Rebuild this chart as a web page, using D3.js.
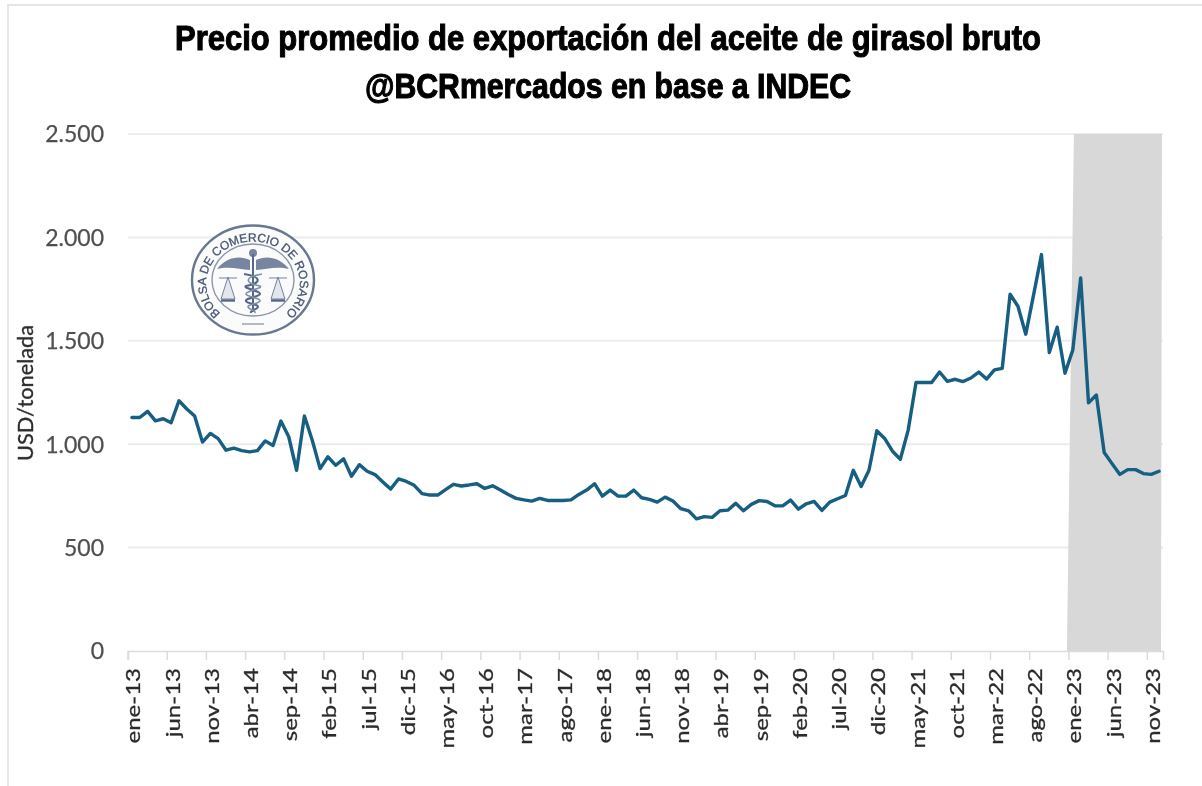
<!DOCTYPE html>
<html lang="es">
<head>
<meta charset="utf-8">
<script src="https://cdn.jsdelivr.net/npm/d3@7"></script>
<style>
html,body{margin:0;padding:0;background:#fff;}
svg{display:block;}
</style>
</head>
<body>
<svg id="chart" width="1202" height="786"></svg>
<script>
const titleLines = ["Precio promedio de exportación del aceite de girasol bruto", "@BCRmercados en base a INDEC"];
const yAxisLabel = "USD/tonelada";
const monthNames = ["ene","feb","mar","abr","may","jun","jul","ago","sep","oct","nov","dic"];
const years = ["13","14","15","16","17","18","19","20","21","22","23"];
const yTicks = [0,500,1000,1500,2000,2500];
const shadedFrom = "ene-23";
const prices = [
 1129,1129,1159,1113,1123,1104,1210,1170,1136,1010,1052,1027,
 971,981,969,963,969,1016,994,1112,1036,874,1136,1019,
 882,939,898,929,845,901,869,853,817,783,832,820,
 801,761,754,754,780,806,798,803,809,786,799,778,
 757,738,731,725,738,728,728,728,731,757,778,809,
 749,778,749,749,778,741,733,720,744,725,688,678,
 639,650,646,678,681,714,678,709,727,723,702,702,
 730,686,712,723,680,720,736,752,874,796,874,1065,
 1028,966,927,1068,1298,1298,1298,1349,1304,1314,1303,1320,
 1349,1315,1359,1367,1725,1667,1532,1723,1917,1443,1566,1343,
 1456,1804,1200,1238,960,906,854,877,877,858,854,869
];
const categories = years.flatMap(y => monthNames.map(m => `${m}-${y}`));
const tickLabels = categories.filter((d,i) => i % 5 === 0);

const svg = d3.select("#chart");
const plot = {left:128, right:1163, top:134, bottom:651};
const x = d3.scaleBand().domain(categories).range([plot.left, plot.right]);
const y = d3.scaleLinear().domain([0,2500]).range([plot.bottom, plot.top]);
const cx = d => x(d) + x.bandwidth()/2;
const esFormat = d3.formatLocale({decimal:",",thousands:".",grouping:[3],currency:["$",""]}).format(",d");

const defs = svg.append("defs");
const soft = defs.append("filter").attr("id","soft").attr("x","-5%").attr("y","-5%").attr("width","110%").attr("height","110%");
soft.append("feGaussianBlur").attr("stdDeviation",0.5);
const softer = defs.append("filter").attr("id","softer").attr("filterUnits","userSpaceOnUse")
  .attr("x",0).attr("y",0).attr("width",1202).attr("height",786);
softer.append("feGaussianBlur").attr("stdDeviation",0.45);

// frame of the pasted picture
svg.append("path").attr("d","M8,786V5H1202").attr("fill","none").attr("stroke","#e6e6e6").attr("stroke-width",2);

// gridlines
svg.append("g").selectAll("line").data(yTicks.filter(d=>d>0)).join("line")
  .attr("x1",plot.left).attr("x2",plot.right).attr("y1",d=>y(d)).attr("y2",d=>y(d))
  .attr("stroke","#ececec").attr("stroke-width",2);

// shaded forecast band (hand-placed, slightly slanted in the source)
const shadeL = x(shadedFrom);
svg.append("path")
  .attr("d",`M${shadeL+5},${plot.top}L${plot.right-1},${plot.top}L${plot.right-2},${plot.bottom}L${shadeL-2},${plot.bottom}Z`)
  .attr("fill","#d8d8d8");

// everything in the pasted image is slightly soft
const layer = svg.append("g").attr("filter","url(#softer)");

// title
const fontTitle = "'Liberation Sans Narrow','Liberation Sans',sans-serif";
const titleWidths = [866, 486];
const titleBase = [50, 98];
layer.append("g").selectAll("text.title").data(titleLines).join("text").attr("class","title")
  .attr("x",608).attr("y",(d,i)=>titleBase[i]).attr("text-anchor","middle")
  .attr("font-family",fontTitle).attr("font-weight",700).attr("font-size",35)
  .attr("textLength",(d,i)=>titleWidths[i]).attr("lengthAdjust","spacingAndGlyphs")
  .attr("fill","#000").attr("stroke","#000").attr("stroke-width",1.1)
  .text(d=>d);

// y axis
const yAxis = d3.axisLeft(y).tickValues(yTicks).tickFormat(esFormat).tickSize(0).tickPadding(24);
const gy = layer.append("g").attr("transform",`translate(${plot.left},0)`).call(yAxis);
gy.select(".domain").remove();
gy.selectAll("text").attr("font-family","Lato").attr("font-size",23).attr("fill","#505050")
  .attr("stroke","#505050").attr("stroke-width",0.25).attr("dy","0.34em");

// x axis
const xAxis = d3.axisBottom(x).tickValues(tickLabels).tickSize(9).tickPadding(0);
const gx = layer.append("g").attr("transform",`translate(0,${plot.bottom})`).call(xAxis);
gx.select(".domain").attr("stroke","#dcdcdc").attr("stroke-width",1.5);
gx.selectAll("line").attr("stroke","#dcdcdc").attr("stroke-width",1.5)
  .attr("x1",-x.bandwidth()/2).attr("x2",-x.bandwidth()/2);
gx.selectAll("text").attr("font-family","Lato").attr("font-size",20).attr("fill","#2b2b2b")
  .attr("stroke","#2b2b2b").attr("stroke-width",0.3)
  .attr("text-anchor","end").attr("transform","translate(1.5,17) rotate(-90) scale(1.2,1)")
  .attr("y",0).attr("dy","0.35em");

// y title
layer.append("text").attr("transform","translate(26,393) rotate(-90) scale(1.06,1)").attr("text-anchor","middle")
  .attr("dy","0.35em").attr("font-family","Lato").attr("font-size",20.5).attr("fill","#2b2b2b")
  .attr("stroke","#2b2b2b").attr("stroke-width",0.3).text(yAxisLabel);

// line
const line = d3.line().x((d,i)=>cx(categories[i])).y(d=>y(d));
layer.append("path").datum(prices).attr("d",line).attr("fill","none")
  .attr("stroke","#155e82").attr("stroke-width",3.4).attr("stroke-linejoin","round").attr("stroke-linecap","round");

// seal of the Bolsa de Comercio de Rosario
const sealInk = "#56688a";
const seal = layer.append("g").attr("transform","translate(253,280)");
seal.append("ellipse").attr("rx",61).attr("ry",54.5).attr("fill","#fbfbfc").attr("stroke","#69788f").attr("stroke-width",2.4);
seal.append("ellipse").attr("rx",41).attr("ry",36).attr("fill","none").attr("stroke","#8b97aa").attr("stroke-width",1.4);
defs.append("path").attr("id","sealArc").attr("d","M-33,33 A46.8,41.8 0 1 1 33,33");
seal.append("text").attr("font-family","'Liberation Sans',sans-serif").attr("font-size",12).attr("fill","#46556f")
  .attr("font-weight",400).attr("stroke","#46556f").attr("stroke-width",0.3)
  .append("textPath").attr("href","#sealArc").attr("startOffset","50%").attr("text-anchor","middle")
  .text("BOLSA DE COMERCIO DE ROSARIO");
// wings
seal.append("path").attr("d","M-3,-20 C-13,-25 -27,-23 -36,-11 C-25,-14 -13,-11 -3,-10 Z M3,-20 C13,-25 27,-23 36,-11 C25,-14 13,-11 3,-10 Z").attr("fill",sealInk).attr("opacity",0.8);
// staff and head
seal.append("path").attr("d","M0,-26 V32").attr("stroke",sealInk).attr("stroke-width",2).attr("fill","none");
seal.append("circle").attr("cy",-27).attr("r",4).attr("fill",sealInk).attr("opacity",0.8);
// serpents
seal.append("path").attr("d","M-9,-6 C9,-3 9,3 -7,6 C-11,8 8,11 7,14 C6,17 -8,18 -7,21 C-6,24 6,24 5,27 C4,30 -3,30 -2,33").attr("fill","none").attr("stroke",sealInk).attr("stroke-width",2.2);
seal.append("path").attr("d","M9,-6 C-9,-3 -9,3 7,6 C11,8 -8,11 -7,14 C-6,17 8,18 7,21 C6,24 -6,24 -5,27 C-4,30 3,30 2,33").attr("fill","none").attr("stroke","#8190a8").attr("stroke-width",1.6);
// scales
[-25,25].forEach(s=>{
  const b = seal.append("g").attr("transform",`translate(${s},0)`);
  b.append("path").attr("d","M0,-3 L-7,19 H7 Z").attr("stroke","#75839a").attr("stroke-width",1).attr("fill","#e3e6ec");
  b.append("path").attr("d","M-7,20.5 H7").attr("stroke",sealInk).attr("stroke-width",2.4);
});
seal.append("path").attr("d","M-34,-2 H-16 M16,-2 H34").attr("stroke","#75839a").attr("stroke-width",1.2);
seal.append("path").attr("d","M-11,44 H11").attr("stroke","#9aa5b6").attr("stroke-width",1.5);
</script>
</body>
</html>
